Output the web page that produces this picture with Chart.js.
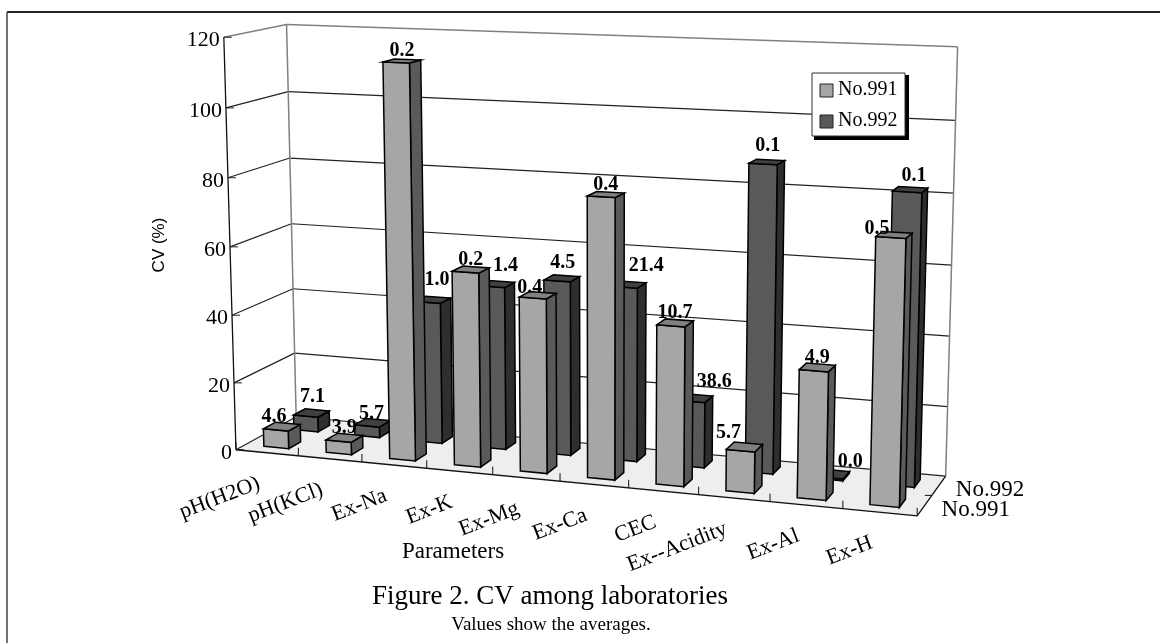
<!DOCTYPE html>
<html>
<head>
<meta charset="utf-8">
<title>Figure 2. CV among laboratories</title>
<script src="https://cdn.jsdelivr.net/npm/chart.js@4"></script>
<style>
    html, body { margin: 0; padding: 0; background: #fff; }
    canvas { display: block; }
</style>
</head>
<body>
<canvas id="cvChart" width="1160" height="643"></canvas>
<script>
const categories = ['pH(H2O)', 'pH(KCl)', 'Ex-Na', 'Ex-K', 'Ex-Mg', 'Ex-Ca', 'CEC', 'Ex--Acidity', 'Ex-Al', 'Ex-H'];
const seriesNames = ['No.991', 'No.992'];
const no991 = [5.3, 3.7, 114, 56, 50, 79.5, 45, 11.7, 35.6, 73];
const no992 = [4.5, 3.2, 42, 48, 51, 50.5, 19, 87.6, 0.5, 82];
// averages printed over the bars
const avg991 = [4.6, 3.9, 0.2, 0.2, 0.4, 0.4, 10.7, 5.7, 4.9, 0.5];
const avg992 = [7.1, 5.7, 1.0, 1.4, 4.5, 21.4, 38.6, 0.1, 0.0, 0.1];
const yMax = 120;
const yStep = 20;

const SERIF = '"Liberation Serif"';
const faces = [
    { front: '#a6a6a6', side: '#5a5a5a', top: '#808080' },
    { front: '#595959', side: '#2e2e2e', top: '#404040' }
];
// where the value labels sit relative to the bar top, by series
const labelOffset = [[0, -10], [1, -16]];
// labels that were moved by hand in the original, "series-category": [dx, dy]
const labelMoves = {
    '0-0': [-8, 0], '0-4': [-8, 3], '0-7': [-16, -4], '0-9': [-17, 4],
    '1-1': [-2, 7], '1-2': [3, -4], '1-3': [8, -2], '1-5': [17, -3],
    '1-6': [18, 0], '1-8': [17, 4], '1-9': [3, 2]
};

// Camera of the 3D box: [u, v, w, screen x, screen y], u along categories,
// v up the value axis, w into the depth. Marks go through this after the scales.
const camera = [
    [0, 0, 0, 236, 449], [0, 1, 0, 224, 37], [0, 0, 1, 296, 418], [0, 1, 1, 286, 25],
    [1, 0, 1, 946, 475], [1, 1, 1, 958, 47], [1, 0, 0, 917, 517], [0.5, 0, 0, 560, 481],
    [0, 0.5, 0, 230, 247], [0, 0.5, 1, 292, 223], [1, 0.5, 1, 951, 265]
];

function solveCamera(points) {
    const n = 11;
    const ata = Array.from({ length: n }, () => new Array(n + 1).fill(0));
    const addRow = (row, rhs) => {
        for (let i = 0; i < n; i++) {
            for (let j = 0; j < n; j++) ata[i][j] += row[i] * row[j];
            ata[i][n] += row[i] * rhs;
        }
    };
    points.forEach(([u, v, w, px, py]) => {
        const x = px / 1000, y = py / 1000;
        addRow([u, v, w, 1, 0, 0, 0, 0, -x * u, -x * v, -x * w], x);
        addRow([0, 0, 0, 0, u, v, w, 1, -y * u, -y * v, -y * w], y);
    });
    for (let c = 0; c < n; c++) {
        let best = c;
        for (let r = c + 1; r < n; r++) if (Math.abs(ata[r][c]) > Math.abs(ata[best][c])) best = r;
        [ata[c], ata[best]] = [ata[best], ata[c]];
        for (let r = 0; r < n; r++) {
            if (r === c) continue;
            const f = ata[r][c] / ata[c][c];
            for (let k = c; k <= n; k++) ata[r][k] -= f * ata[c][k];
        }
    }
    return ata.map((row, i) => row[n] / row[i]);
}

const P = solveCamera(camera);

function project(u, v, w) {
    const d = P[8] * u + P[9] * v + P[10] * w + 1;
    return [
        1000 * (P[0] * u + P[1] * v + P[2] * w + P[3]) / d,
        1000 * (P[4] * u + P[5] * v + P[6] * w + P[7]) / d
    ];
}

function polygon(ctx, pts, fill, stroke, lineWidth) {
    ctx.beginPath();
    pts.forEach((p, i) => i ? ctx.lineTo(p[0], p[1]) : ctx.moveTo(p[0], p[1]));
    ctx.closePath();
    if (fill) { ctx.fillStyle = fill; ctx.fill(); }
    if (stroke) { ctx.strokeStyle = stroke; ctx.lineWidth = lineWidth || 1; ctx.stroke(); }
}

function line(ctx, a, b, color, width) {
    ctx.beginPath();
    ctx.moveTo(a[0], a[1]);
    ctx.lineTo(b[0], b[1]);
    ctx.strokeStyle = color;
    ctx.lineWidth = width || 1;
    ctx.stroke();
}

function text(ctx, str, x, y, font, align, angle) {
    ctx.save();
    ctx.translate(x, y);
    if (angle) ctx.rotate(angle * Math.PI / 180);
    ctx.font = font;
    ctx.fillStyle = '#000';
    ctx.textAlign = align || 'center';
    ctx.textBaseline = 'middle';
    ctx.fillText(str, 0, 0);
    ctx.restore();
}

const box3d = {
    id: 'box3d',
    afterDatasetsDraw(chart) {
        const ctx = chart.ctx;
        const area = chart.chartArea;
        const xs = chart.scales.x, ys = chart.scales.y, zs = chart.scales.z;
        const toU = px => (px - area.left) / area.width;
        const toV = px => (area.bottom - px) / area.height;

        // page frame
        line(ctx, [7, 12], [1160, 12], '#222', 2);
        line(ctx, [7, 12], [7, 643], '#444', 1.5);

        // floor and walls
        polygon(ctx, [project(0, 0, 0), project(1, 0, 0), project(1, 0, 1), project(0, 0, 1)], '#eeeeee');
        ys.ticks.forEach(t => {
            const v = toV(ys.getPixelForValue(t.value));
            const c = (v === 1) ? '#808080' : '#222';
            const w = (v === 1) ? 1.5 : 1.2;
            line(ctx, project(0, v, 0), project(0, v, 1), c, w);
            line(ctx, project(0, v, 1), project(1, v, 1), c, w);
            const a = project(0, v, 0);
            line(ctx, a, [a[0] + 8, a[1]], '#222');
            text(ctx, t.label, a[0] - 4, a[1] + 3, '22px ' + SERIF, 'right');
        });
        line(ctx, project(0, 0, 1), project(0, 1, 1), '#808080', 1.5);
        line(ctx, project(1, 0, 1), project(1, 1, 1), '#808080', 1.5);
        line(ctx, project(0, 0, 0), project(0, 1, 0), '#111', 1.3);
        line(ctx, project(0, 0, 0), project(1, 0, 0), '#111', 1.3);
        line(ctx, project(1, 0, 0), project(1, 0, 1), '#111', 1.3);

        // category ticks and rotated labels on the front edge
        for (let i = 0; i <= categories.length; i++) {
            const a = project(toU(xs.getPixelForValue(i - 0.5)), 0, 0);
            line(ctx, a, [a[0], a[1] - 8], '#111');
        }
        categories.forEach((name, i) => {
            const a = project(toU(xs.getPixelForValue(i)), 0, 0);
            text(ctx, name, a[0] - 8, a[1] + 30, '22px ' + SERIF, 'right', -21);
        });

        // series names on the depth edge
        const zTick = project(1, 0, toU(zs.getPixelForValue(0.5)));
        line(ctx, zTick, [zTick[0] - 7, zTick[1]], '#111');
        seriesNames.forEach((name, i) => {
            const a = project(1, 0, toU(zs.getPixelForValue(i)));
            text(ctx, name, a[0] + 17, a[1] + 4, '23px ' + SERIF, 'left');
        });

        // bars, back row first
        const labels = [];
        for (let ds = chart.data.datasets.length - 1; ds >= 0; ds--) {
            const meta = chart.getDatasetMeta(ds);
            const zc = zs.getPixelForValue(ds);
            const half = zs.width / seriesNames.length * chart.data.datasets[ds].barPercentage / 2;
            const w0 = toU(zc - half), w1 = toU(zc + half);
            const col = faces[ds];
            meta.data.forEach((el, i) => {
                const u0 = toU(el.x - el.width / 2), u1 = toU(el.x + el.width / 2);
                const v = toV(el.y);
                const frontFace = [project(u0, 0, w0), project(u1, 0, w0), project(u1, v, w0), project(u0, v, w0)];
                const sideFace = [project(u1, 0, w0), project(u1, 0, w1), project(u1, v, w1), project(u1, v, w0)];
                const topFace = [project(u0, v, w0), project(u1, v, w0), project(u1, v, w1), project(u0, v, w1)];
                polygon(ctx, sideFace, col.side, '#000', 1.5);
                polygon(ctx, frontFace, col.front, '#000', 1.5);
                polygon(ctx, topFace, col.top, '#000', 1.5);
                const c = project((u0 + u1) / 2, v, (w0 + w1) / 2);
                const move = labelMoves[ds + '-' + i] || [0, 0];
                labels.push([
                    chart.data.datasets[ds].averages[i].toFixed(1),
                    c[0] + labelOffset[ds][0] + move[0],
                    c[1] + labelOffset[ds][1] + move[1]
                ]);
            });
        }
        labels.forEach(l => text(ctx, l[0], l[1], l[2], 'bold 20px ' + SERIF));

        // axis titles and captions
        text(ctx, 'CV (%)', 159, 245, '17px "Liberation Sans"', 'center', -90);
        text(ctx, 'Parameters', 453, 552, '23px ' + SERIF);
        text(ctx, 'Figure 2. CV among laboratories', 550, 597, '27px ' + SERIF);
        text(ctx, 'Values show the averages.', 551, 625, '19px ' + SERIF);

        // legend with its drop shadow
        ctx.fillStyle = '#000';
        ctx.fillRect(814, 75, 95, 65);
        polygon(ctx, [[812, 73], [905, 73], [905, 136], [812, 136]], '#fff', '#333', 1);
        seriesNames.forEach((name, i) => {
            const y = 90.5 + i * 31;
            polygon(ctx, [[820, y - 6.5], [833, y - 6.5], [833, y + 6.5], [820, y + 6.5]], faces[i].front, '#222', 1);
            text(ctx, name, 838, y - 1, '20px ' + SERIF, 'left');
        });
    }
};

new Chart(document.getElementById('cvChart').getContext('2d'), {
    type: 'bar',
    data: {
        labels: categories,
        datasets: [
            { label: seriesNames[0], data: no991, averages: avg991, backgroundColor: 'transparent', barPercentage: 0.4, categoryPercentage: 1, grouped: false },
            { label: seriesNames[1], data: no992, averages: avg992, backgroundColor: 'transparent', barPercentage: 0.4, categoryPercentage: 1, grouped: false }
        ]
    },
    options: {
        responsive: false,
        animation: false,
        events: [],
        layout: { padding: 0 },
        plugins: { legend: { display: false }, tooltip: { enabled: false } },
        scales: {
            x: { type: 'category', offset: true, display: false },
            y: { type: 'linear', min: 0, max: yMax, ticks: { stepSize: yStep }, display: false },
            z: { type: 'category', axis: 'x', labels: seriesNames, offset: true, display: false }
        }
    },
    plugins: [box3d]
});
</script>
</body>
</html>
